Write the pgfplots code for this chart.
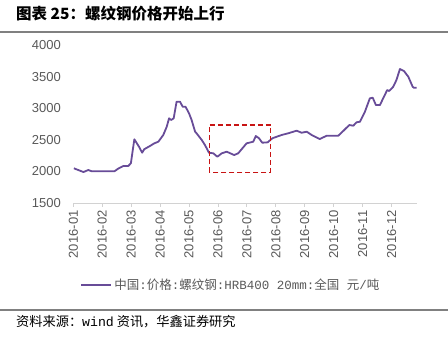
\documentclass[border=0pt]{standalone}
\usepackage{pgfplots}
\pgfplotsset{compat=1.18}
\usepackage{fontspec}
\setmainfont{Liberation Sans}
\newfontfamily\cjk{Noto Sans CJK SC}
\newfontfamily\mono{Liberation Mono}
\definecolor{lineP}{RGB}{104,76,152}
\definecolor{tickG}{RGB}{89,89,89}
\definecolor{axG}{RGB}{210,210,210}
\definecolor{boxR}{RGB}{200,20,20}
\begin{document}
\begin{tikzpicture}[x=1pt,y=1pt]
\path[use as bounding box] (0,0) rectangle (448,337);
\node[anchor=west, inner sep=0pt, font=\cjk\fontsize{15.5}{17}\selectfont\bfseries] at (16,323) {图表 25：螺纹钢价格开始上行};
\draw[gray, line width=1.3pt] (0,305) -- (448,305);
\draw[gray, line width=1.6pt] (0,27) -- (448,27);
\node[anchor=west, inner sep=0pt, font=\cjk\fontsize{13.2}{15}\selectfont] at (16,15) {资料来源：{\mono wind} 资讯，华鑫证券研究};
\begin{axis}[
  at={(73.3pt,134pt)}, anchor=south west,
  scale only axis, width=343.4pt, height=158pt,
  xmin=0, xmax=11.87, ymin=1500, ymax=4000,
  axis x line*=bottom, axis y line*=left,
  y axis line style={draw=none},
  x axis line style={draw=axG, line width=0.8pt},
  xtick={0,1,...,11},
  xticklabels={2016-01,2016-02,2016-03,2016-04,2016-05,2016-06,2016-07,2016-08,2016-09,2016-10,2016-11,2016-12},
  ytick={1500,2000,2500,3000,3500,4000},
  ytick style={draw=none},
  xtick style={draw=axG, line width=0.8pt},
  tick align=outside, major tick length=4pt,
  xticklabel style={rotate=90, anchor=east, font=\fontsize{13}{15}\selectfont, text=tickG},
  yticklabel style={font=\fontsize{13}{15}\selectfont, text=tickG, xshift=-5pt},
  /pgf/number format/assume math mode=true,
  /pgf/number format/.cd, 1000 sep={}, /pgfplots/.cd,
  legend style={at={(0.459,-0.519)}, anchor=center, draw=none, font=\cjk\fontsize{12.5}{14}\selectfont, text=tickG},
  legend image code/.code={\draw[#1] (0pt,0pt) -- (30pt,0pt);},
]
\addplot[lineP, line width=1.8pt, line join=round] coordinates {
(0.02,2049) (0.17,2022) (0.35,1990) (0.52,2022) (0.64,2001) (0.86,2001) (1.42,2001)
(1.55,2043) (1.73,2085) (1.90,2085) (1.99,2128) (2.11,2508) (2.27,2391) (2.38,2296)
(2.45,2350) (2.65,2402) (2.80,2444) (2.94,2470) (3.11,2576) (3.23,2707) (3.31,2840)
(3.38,2813) (3.47,2840) (3.57,3103) (3.69,3103) (3.78,3023) (3.88,3023) (4.00,2919)
(4.09,2813) (4.21,2628) (4.26,2603) (4.44,2497) (4.55,2418) (4.69,2296) (4.84,2286)
(4.98,2232) (5.13,2286) (5.30,2312) (5.56,2259) (5.70,2286) (5.99,2444) (6.22,2470)
(6.31,2560) (6.42,2524) (6.53,2454) (6.72,2460) (6.88,2524) (7.20,2576) (7.43,2603)
(7.72,2644) (7.89,2612) (8.07,2628) (8.24,2576) (8.52,2512) (8.76,2565) (9.16,2565)
(9.33,2639) (9.54,2734) (9.68,2723) (9.79,2777) (9.91,2786) (10.08,2944) (10.25,3156)
(10.35,3166) (10.46,3050) (10.60,3050) (10.71,3156) (10.85,3287) (10.92,3272)
(11.06,3340) (11.17,3446) (11.29,3620) (11.43,3588) (11.58,3498) (11.73,3340)
(11.77,3324) (11.87,3324)
};
\addlegendentry{中国{\mono:}价格{\mono:}螺纹钢{\mono:HRB400 20mm:}全国{\mono\ }元{\mono/}吨}
\draw[boxR, line width=1.3pt, dash pattern=on 5pt off 3pt] (axis cs:4.70,1986) rectangle (axis cs:6.82,2734);
\end{axis}
\end{tikzpicture}
\end{document}
